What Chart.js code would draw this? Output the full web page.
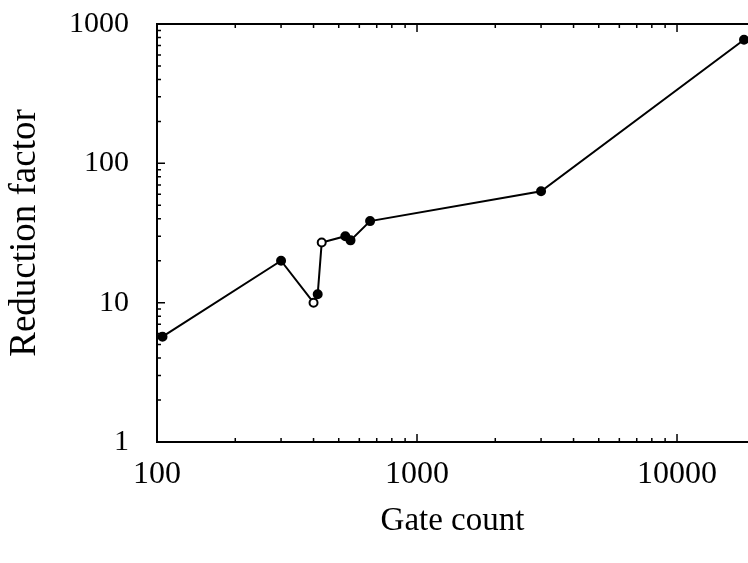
<!DOCTYPE html>
<html>
<head>
<meta charset="utf-8">
<script src="https://cdn.jsdelivr.net/npm/chart.js@4/dist/chart.umd.min.js"></script>
<style>
  html, body { margin: 0; padding: 0; background: #fff; }
  #wrap { width: 748px; height: 563px; }
</style>
</head>
<body>
<div id="wrap"><canvas id="reductionChart"></canvas></div>
<script>
// Gate count vs. reduction factor, both on log axes
const gateCount = [105, 300, 400, 415, 430, 530, 555, 660, 3000, 18100];
const reductionFactor = [5.7, 20, 10, 11.5, 27, 30, 28, 38.5, 63, 770];
const xTickLabels = [100, 1000, 10000];
const yTickLabels = [1, 10, 100, 1000];

const serif = 'Liberation Serif';
const hollow = [2, 4]; // these markers are drawn open

// frame on left/top/bottom with small ticks pointing inward
const framePlugin = {
  id: 'frame',
  afterDraw(chart) {
    const { ctx, chartArea: a, scales: { x, y } } = chart;
    ctx.save();
    ctx.strokeStyle = '#000';
    ctx.lineWidth = 2;
    ctx.beginPath();
    ctx.moveTo(a.right + 2, a.top);
    ctx.lineTo(a.left, a.top);
    ctx.lineTo(a.left, a.bottom);
    ctx.lineTo(a.right + 2, a.bottom);
    ctx.stroke();

    ctx.lineWidth = 1.5;
    ctx.beginPath();
    for (let e = 2; e <= 4; e++) {
      for (let m = 1; m <= 9; m++) {
        const v = m * Math.pow(10, e);
        if (v < x.min || v > x.max) continue;
        const px = x.getPixelForValue(v);
        const len = m === 1 ? 8 : 4;
        ctx.moveTo(px, a.bottom); ctx.lineTo(px, a.bottom - len);
        ctx.moveTo(px, a.top); ctx.lineTo(px, a.top + len);
      }
    }
    for (let e = 0; e <= 2; e++) {
      for (let m = 1; m <= 9; m++) {
        const v = m * Math.pow(10, e);
        const py = y.getPixelForValue(v);
        const len = m === 1 ? 8 : 4;
        ctx.moveTo(a.left, py); ctx.lineTo(a.left + len, py);
      }
    }
    ctx.stroke();
    ctx.restore();
  }
};

new Chart(document.getElementById('reductionChart'), {
  type: 'line',
  data: {
    datasets: [{
      data: gateCount.map((g, i) => ({ x: g, y: reductionFactor[i] })),
      borderColor: '#000',
      borderWidth: 2,
      pointRadius: 4,
      pointBorderWidth: 2,
      pointBorderColor: '#000',
      pointBackgroundColor: ctx => hollow.includes(ctx.dataIndex) ? '#fff' : '#000',
      tension: 0
    }]
  },
  options: {
    responsive: true,
    maintainAspectRatio: false,
    animation: false,
    layout: { autoPadding: false, padding: { top: 24, left: 0, right: 0, bottom: 0 } },
    plugins: { legend: { display: false }, tooltip: { enabled: false } },
    scales: {
      x: {
        type: 'logarithmic',
        min: 100,
        max: 18750,
        border: { display: false },
        grid: { display: false, drawTicks: false },
        afterFit: s => { s.height = 121; s.paddingLeft = 0; s.paddingRight = 0; },
        ticks: {
          autoSkip: false,
          maxRotation: 0,
          padding: 13,
          color: '#000',
          font: { family: serif, size: 32 },
          callback: v => xTickLabels.includes(v) ? String(v) : ''
        },
        title: {
          display: true,
          text: 'Gate count',
          color: '#000',
          font: { family: serif, size: 33 },
          padding: { top: 0, bottom: 22 }
        }
      },
      y: {
        type: 'logarithmic',
        min: 1,
        max: 1000,
        border: { display: false },
        grid: { display: false, drawTicks: false },
        afterFit: s => { s.width = 157; s.paddingTop = 0; s.paddingBottom = 0; },
        ticks: {
          autoSkip: false,
          padding: 28,
          color: '#000',
          font: { family: serif, size: 30 },
          callback: v => yTickLabels.includes(v) ? String(v) : ''
        },
        title: {
          display: true,
          text: 'Reduction factor',
          color: '#000',
          font: { family: serif, size: 37 },
          padding: { top: 3, bottom: 0 }
        }
      }
    }
  },
  plugins: [framePlugin]
});
</script>
</body>
</html>
